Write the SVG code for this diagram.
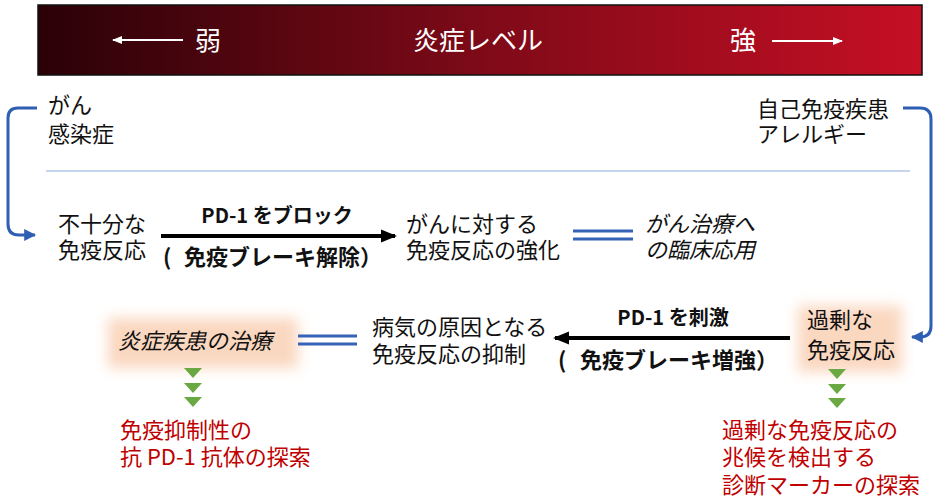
<svg xmlns="http://www.w3.org/2000/svg" width="940" height="502" viewBox="0 0 940 502">
<defs>
<linearGradient id="barGrad" x1="0" y1="0" x2="1" y2="0">
<stop offset="0" stop-color="#2a0107"/>
<stop offset="0.5" stop-color="#7e0a18"/>
<stop offset="1" stop-color="#c60f24"/>
</linearGradient>
<filter id="glow" x="-30%" y="-50%" width="160%" height="200%">
<feGaussianBlur stdDeviation="7"/>
</filter>
<marker id="blkHead" markerWidth="4" markerHeight="4" refX="3.5" refY="2" orient="auto" markerUnits="strokeWidth">
<path d="M0,0.4 L4,2 L0,3.6 Z" fill="#000"/>
</marker>
<marker id="bluHead" markerWidth="4" markerHeight="4" refX="3.6" refY="2" orient="auto" markerUnits="strokeWidth">
<path d="M0,0 L4,2 L0,4 Z" fill="#2f5fb3"/>
</marker>
<marker id="whtHead" markerWidth="5" markerHeight="5" refX="4.5" refY="2.5" orient="auto" markerUnits="strokeWidth">
<path d="M0,0.5 L5,2.5 L0,4.5 Z" fill="#fff"/>
</marker>
<style>
text{font-family:"Noto Sans CJK JP","Noto Sans",sans-serif;font-size:22px;fill:#111;}
.ttl{fill:#fff;font-size:26px;}
.it{font-style:italic;}
.red{fill:#c00000;}
.lbl{font-weight:bold;font-size:20px;}
.par{font-weight:bold;font-size:22px;}
.bracket{fill:none;stroke:#2f5fb3;stroke-width:3;}
.dbl{stroke:#3563b8;stroke-width:3;}
.tri{fill:#6aa843;}
</style>
</defs>

<g id="header">
<rect x="38" y="5" width="884" height="70" fill="url(#barGrad)" stroke="#111" stroke-width="1.5"/>
<line x1="183" y1="40" x2="113" y2="40" stroke="#fff" stroke-width="2" marker-end="url(#whtHead)"/>
<text class="ttl" x="195" y="50">弱</text>
<text class="ttl" x="478" y="50" text-anchor="middle">炎症レベル</text>
<text class="ttl" x="730" y="50">強</text>
<line x1="772" y1="41" x2="842" y2="41" stroke="#fff" stroke-width="2" marker-end="url(#whtHead)"/>
</g>

<g id="separator">
<line x1="46" y1="171" x2="910" y2="171" stroke="#8faadc" stroke-width="1.2"/>
</g>

<g id="glows">
<rect x="108" y="318" width="190" height="50" fill="#fad7bf" filter="url(#glow)"/>
<rect x="798" y="306" width="104" height="66" fill="#fad7bf" filter="url(#glow)"/>
</g>

<g id="node-cancer">
<text x="48" y="113">がん</text>
<text x="48" y="142">感染症</text>
</g>

<g id="node-autoimmune">
<text x="757" y="117">自己免疫疾患</text>
<text x="757" y="142">アレルギー</text>
</g>

<g id="node-insufficient">
<text x="58" y="232">不十分な</text>
<text x="58" y="258">免疫反応</text>
</g>

<g id="node-enhance">
<text x="406" y="232">がんに対する</text>
<text x="406" y="258">免疫反応の強化</text>
</g>

<g id="node-cancer-therapy">
<text class="it" x="645" y="232">がん治療へ</text>
<text class="it" x="645" y="258">の臨床応用</text>
</g>

<g id="node-excess">
<text x="807" y="328">過剰な</text>
<text x="807" y="358">免疫反応</text>
</g>

<g id="node-suppress">
<text x="372" y="335">病気の原因となる</text>
<text x="372" y="362">免疫反応の抑制</text>
</g>

<g id="node-inflam-therapy">
<text class="it" x="118" y="349">炎症疾患の治療</text>
</g>

<g id="node-antibody">
<text class="red" x="120" y="438">免疫抑制性の</text>
<text class="red" x="120" y="465">抗 PD-1 抗体の探索</text>
</g>

<g id="node-marker">
<text class="red" x="722" y="438">過剰な免疫反応の</text>
<text class="red" x="722" y="465">兆候を検出する</text>
<text class="red" x="722" y="493">診断マーカーの探索</text>
</g>

<g id="connectors">
<path class="bracket" d="M37,108 H18 Q8,108 8,118 V224 Q8,235 19,235 H35" marker-end="url(#bluHead)"/>
<path class="bracket" d="M903,108 H920 Q931,108 931,119 V326 Q931,337 920,337 H912" marker-end="url(#bluHead)"/>

<line x1="161" y1="236" x2="395" y2="236" stroke="#000" stroke-width="4" marker-end="url(#blkHead)"/>
<text class="lbl" x="277" y="223" text-anchor="middle">PD-1 をブロック</text>
<text class="par" x="163" y="265">(<tspan x="184">免疫ブレーキ解除）</tspan></text>

<line x1="790" y1="338" x2="555" y2="338" stroke="#000" stroke-width="4" marker-end="url(#blkHead)"/>
<text class="lbl" x="673" y="325" text-anchor="middle">PD-1 を刺激</text>
<text class="par" x="558" y="368">(<tspan x="580">免疫ブレーキ増強）</tspan></text>

<line class="dbl" x1="573" y1="231" x2="633" y2="231"/>
<line class="dbl" x1="573" y1="239" x2="633" y2="239"/>
<line class="dbl" x1="298" y1="336" x2="357" y2="336"/>
<line class="dbl" x1="298" y1="344" x2="357" y2="344"/>

<polygon class="tri" points="184,368 202,368 193,378"/>
<polygon class="tri" points="184,383 202,383 193,393"/>
<polygon class="tri" points="184,397 202,397 193,407"/>
<polygon class="tri" points="828,369 846,369 837,379"/>
<polygon class="tri" points="828,384 846,384 837,394"/>
<polygon class="tri" points="828,398 846,398 837,408"/>
</g>
</svg>
